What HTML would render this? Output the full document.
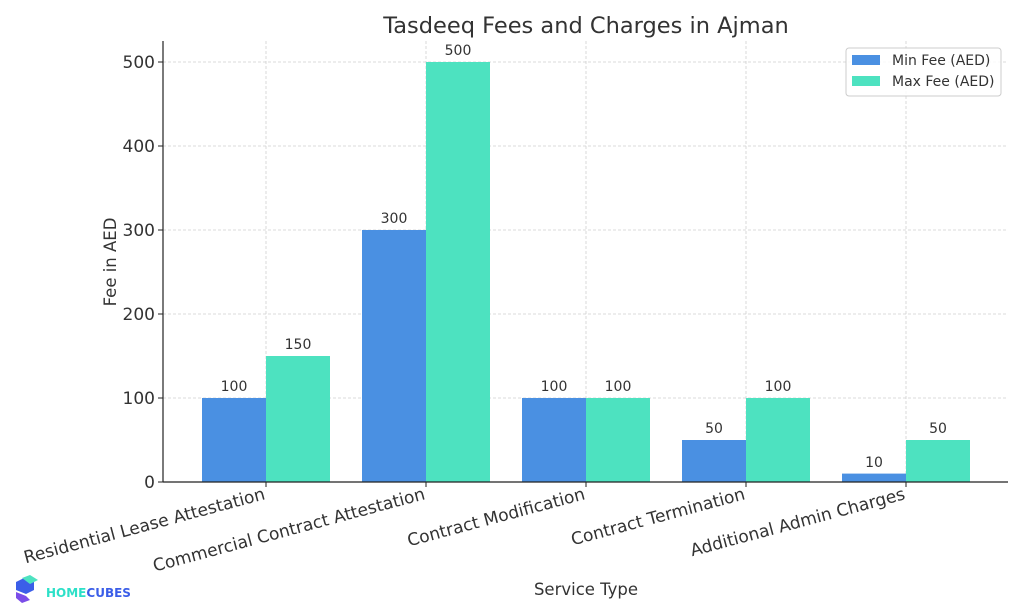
<!DOCTYPE html>
<html><head><style>body{margin:0;background:#fff}svg{display:block}text{font-family:"DejaVu Sans","Liberation Sans",sans-serif;fill:#333}</style></head>
<body>
<svg width="1024" height="614" viewBox="0 0 1024 614" xmlns="http://www.w3.org/2000/svg">
<rect width="1024" height="614" fill="#fff"/>
<g stroke="#d0d0d0" stroke-dasharray="3,2" stroke-width="0.8">
<line x1="266" y1="41" x2="266" y2="482"/><line x1="426" y1="41" x2="426" y2="482"/><line x1="586" y1="41" x2="586" y2="482"/><line x1="746" y1="41" x2="746" y2="482"/><line x1="906" y1="41" x2="906" y2="482"/>
<line x1="163" y1="398" x2="1008" y2="398"/><line x1="163" y1="314" x2="1008" y2="314"/><line x1="163" y1="230" x2="1008" y2="230"/><line x1="163" y1="146" x2="1008" y2="146"/><line x1="163" y1="62" x2="1008" y2="62"/>
</g>
<g fill="#4a90e2">
<rect x="202" y="398" width="64" height="84"/><rect x="362" y="230" width="64" height="252"/><rect x="522" y="398" width="64" height="84"/><rect x="682" y="440" width="64" height="42"/><rect x="842" y="473.6" width="64" height="8.4"/>
</g>
<g fill="#4de2c0">
<rect x="266" y="356" width="64" height="126"/><rect x="426" y="62" width="64" height="420"/><rect x="586" y="398" width="64" height="84"/><rect x="746" y="398" width="64" height="84"/><rect x="906" y="440" width="64" height="42"/>
</g>
<g font-size="14" text-anchor="middle">
<text x="234" y="391">100</text><text x="298" y="349">150</text><text x="394" y="223">300</text><text x="458" y="55">500</text>
<text x="554" y="391">100</text><text x="618" y="391">100</text><text x="714" y="433">50</text><text x="778" y="391">100</text>
<text x="874" y="467">10</text><text x="938" y="433">50</text>
</g>
<g stroke="#222" stroke-width="1.2" fill="none"><line x1="163" y1="41" x2="163" y2="482"/><line x1="163" y1="482" x2="1008" y2="482"/></g>
<g stroke="#222"><line x1="158" y1="482" x2="163" y2="482"/><line x1="158" y1="398" x2="163" y2="398"/><line x1="158" y1="314" x2="163" y2="314"/><line x1="158" y1="230" x2="163" y2="230"/><line x1="158" y1="146" x2="163" y2="146"/><line x1="158" y1="62" x2="163" y2="62"/>
<line x1="266" y1="482" x2="266" y2="487"/><line x1="426" y1="482" x2="426" y2="487"/><line x1="586" y1="482" x2="586" y2="487"/><line x1="746" y1="482" x2="746" y2="487"/><line x1="906" y1="482" x2="906" y2="487"/></g>
<g font-size="17" text-anchor="end">
<text x="155" y="488">0</text><text x="155" y="404">100</text><text x="155" y="320">200</text><text x="155" y="236">300</text><text x="155" y="152">400</text><text x="155" y="68">500</text>
</g>
<g font-size="17.1" text-anchor="end">
<text transform="translate(266,499) rotate(-15)">Residential Lease Attestation</text>
<text transform="translate(426,499) rotate(-15)">Commercial Contract Attestation</text>
<text transform="translate(586,499) rotate(-15)">Contract Modification</text>
<text transform="translate(746,499) rotate(-15)">Contract Termination</text>
<text transform="translate(906,499) rotate(-15)">Additional Admin Charges</text>
</g>
<text x="586" y="595" font-size="16.5" text-anchor="middle">Service Type</text>
<text transform="translate(116,262) rotate(-90)" font-size="16.5" text-anchor="middle">Fee in AED</text>
<text x="586" y="33" font-size="22.5" text-anchor="middle">Tasdeeq Fees and Charges in Ajman</text>
<rect x="846" y="48" width="155" height="48" rx="3" fill="#fff" fill-opacity="0.85" stroke="#ccc"/>
<rect x="852" y="55" width="28" height="10" fill="#4a90e2"/><rect x="852" y="76" width="28" height="10" fill="#4de2c0"/>
<text x="892" y="65" font-size="14">Min Fee (AED)</text><text x="892" y="86" font-size="14">Max Fee (AED)</text>
<g>
<polygon points="16,582 26,577 34,582 34,590 26,594 16,590" fill="#3b5ee8"/>
<polygon points="22,578 30,575 38,580 30,584" fill="#4de2c0"/>
<polygon points="16,592 26,596 30,600 22,603 16,598" fill="#7b4de8"/>
<text x="46" y="597" font-size="12" font-weight="bold" style="fill:#2de0c8">HOME<tspan style="fill:#3b5ee8">CUBES</tspan></text>
</g>
</svg>
</body></html>
